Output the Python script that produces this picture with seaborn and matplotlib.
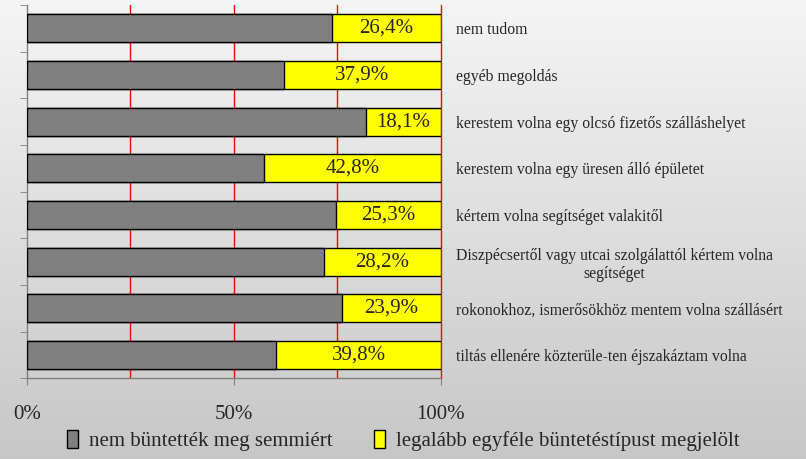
import matplotlib
matplotlib.use("Agg")
import matplotlib.pyplot as plt
import numpy as np
import pandas as pd
import seaborn as sns

# Data (top to bottom)
categories = [
    "nem tudom",
    "egyéb megoldás",
    "kerestem volna egy olcsó fizetős szálláshelyet",
    "kerestem volna egy üresen álló épületet",
    "kértem volna segítséget valakitől",
    "Diszpécsertől vagy utcai szolgálattól kértem volna\nsegítséget",
    "rokonokhoz, ismerősökhöz mentem volna szállásért",
    "tiltás ellenére közterüle-ten éjszakáztam volna",
]
marked = [26.4, 37.9, 18.1, 42.8, 25.3, 28.2, 23.9, 39.8]
not_punished = [round(100 - v, 1) for v in marked]
series_names = ["nem büntették meg semmiért", "legalább egyféle büntetéstípust megjelölt"]
x_ticks = [0, 50, 100]
x_tick_labels = ["0%", "50%", "100%"]
grid_positions = [25, 50, 75, 100]

df = pd.DataFrame({"cat": categories, "gray": not_punished, "yellow": marked})
df["total"] = df["gray"] + df["yellow"]

sns.set_style("white")
plt.rcParams["font.family"] = ["Liberation Serif", "DejaVu Serif"]

fig = plt.figure(figsize=(8.06, 4.59), dpi=100)

# gradient background
bg = fig.add_axes([0, 0, 1, 1], zorder=-10)
grad = np.linspace(0.96, 0.78, 256).reshape(-1, 1)
bg.imshow(np.dstack([grad, grad, grad]), aspect="auto", extent=[0, 1, 0, 1])
bg.axis("off")

ax = fig.add_axes([0.0335, 0.176, 0.5136, 0.813])
ax.set_facecolor("none")

for g in grid_positions:
    ax.axvline(g, color="#ff0000", lw=1, zorder=0, clip_on=False)

sns.barplot(data=df, y="cat", x="total", color="#ffff00", saturation=1, width=0.6,
            edgecolor="black", linewidth=1, orient="h", ax=ax, label=series_names[1], zorder=2)
sns.barplot(data=df, y="cat", x="gray", color="#808080", saturation=1, width=0.6,
            edgecolor="black", linewidth=1, orient="h", ax=ax, label=series_names[0], zorder=3)

for i, row in df.iterrows():
    ax.text((row["gray"] + row["total"]) / 2, i, f"{row['yellow']:.1f}%".replace(".", ","),
            ha="center", va="center", fontsize=15, zorder=4)

ax.set_xlim(0, 100)
ax.set_ylim(len(categories) - 0.5, -0.5)
ax.set_xlabel("")
ax.set_ylabel("")
ax.set_xticks(x_ticks)
ax.set_xticklabels(x_tick_labels, fontsize=15)
ax.tick_params(axis="x", length=5, color="#808080", pad=14, bottom=True)

ax.set_yticks(range(len(categories)))
ax.set_yticks(np.arange(len(categories) + 1) - 0.5, minor=True)
ax.tick_params(axis="y", which="major", left=False, right=False, labelleft=False,
               labelright=True, pad=7, labelsize=11.3)
ax.tick_params(axis="y", which="minor", left=True, length=5, color="#808080")
for lbl in ax.get_yticklabels():
    lbl.set_multialignment("center")

for s in ["top", "right"]:
    ax.spines[s].set_visible(False)
for s in ["left", "bottom"]:
    ax.spines[s].set_color("#808080")
    ax.spines[s].set_linewidth(1)

h, l = ax.get_legend_handles_labels()
if ax.get_legend() is not None:
    ax.get_legend().remove()
order = [l.index(series_names[0]), l.index(series_names[1])]
fig.legend([h[i] for i in order], [l[i] for i in order], loc="center",
           bbox_to_anchor=(0.5, 0.04), ncol=2, frameon=False, fontsize=15,
           handlelength=0.55, handleheight=0.9, handletextpad=0.5, columnspacing=2.0)

fig.savefig("out.png", dpi=100)
